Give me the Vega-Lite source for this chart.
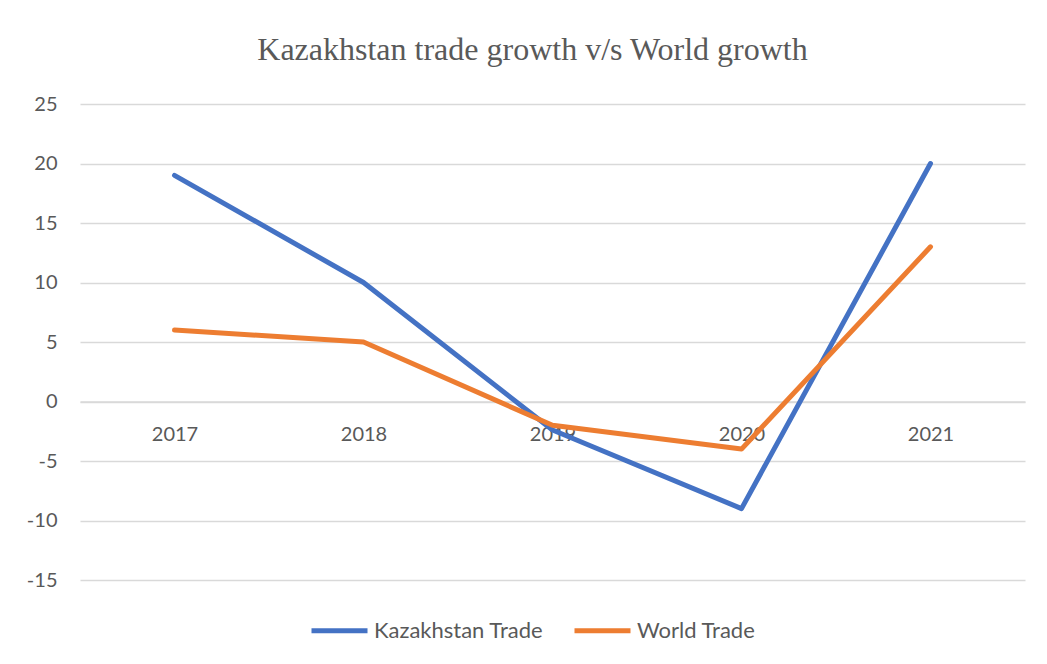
{
  "$schema": "https://vega.github.io/schema/vega-lite/v6.json",
  "width": 945,
  "height": 476,
  "autosize": {"type": "none"},
  "padding": {"left": 80, "top": 104, "right": 22, "bottom": 84},
  "background": "white",
  "title": {
    "text": "Kazakhstan trade growth v/s World growth",
    "font": "Liberation Serif",
    "fontSize": 32,
    "fontWeight": "normal",
    "color": "#595959",
    "anchor": "middle",
    "frame": "group",
    "offset": 27,
    "dx": -20
  },
  "config": {
    "view": {"stroke": null},
    "font": "Lato"
  },
  "data": {
    "values": [
      {"year": "2017", "series": "Kazakhstan Trade", "value": 19},
      {"year": "2018", "series": "Kazakhstan Trade", "value": 10},
      {"year": "2019", "series": "Kazakhstan Trade", "value": -2.4},
      {"year": "2020", "series": "Kazakhstan Trade", "value": -9},
      {"year": "2021", "series": "Kazakhstan Trade", "value": 20},
      {"year": "2017", "series": "World Trade", "value": 6},
      {"year": "2018", "series": "World Trade", "value": 5},
      {"year": "2019", "series": "World Trade", "value": -2},
      {"year": "2020", "series": "World Trade", "value": -4},
      {"year": "2021", "series": "World Trade", "value": 13}
    ]
  },
  "mark": {"type": "line", "strokeWidth": 5, "strokeCap": "round", "strokeJoin": "round"},
  "encoding": {
    "x": {
      "field": "year",
      "type": "ordinal",
      "scale": {"type": "point", "padding": 0.5},
      "axis": {
        "title": null,
        "labelAngle": 0,
        "offset": -178.5,
        "domainColor": "#d9d9d9",
        "domainWidth": 1.3,
        "ticks": false,
        "grid": false,
        "labelFont": "Lato",
        "labelFontSize": 20,
        "labelColor": "#595959",
        "labelPadding": 33,
        "labelBaseline": "middle"
      }
    },
    "y": {
      "field": "value",
      "type": "quantitative",
      "scale": {"domain": [-15, 25], "nice": false, "zero": false},
      "axis": {
        "title": null,
        "values": [-15, -10, -5, 0, 5, 10, 15, 20, 25],
        "labelExpr": "'' + datum.value",
        "domain": false,
        "ticks": false,
        "grid": true,
        "gridColor": "#d9d9d9",
        "gridWidth": 1.3,
        "labelFont": "Lato",
        "labelFontSize": 20,
        "labelColor": "#595959",
        "labelPadding": 23
      }
    },
    "color": {
      "field": "series",
      "type": "nominal",
      "scale": {"domain": ["Kazakhstan Trade", "World Trade"], "range": ["#4472C4", "#ED7D31"]},
      "legend": {
        "title": null,
        "orient": "none",
        "direction": "horizontal",
        "legendX": 229,
        "legendY": 496,
        "symbolType": "stroke",
        "symbolSize": 3136,
        "symbolStrokeWidth": 5,
        "labelFont": "Lato",
        "labelFontSize": 22,
        "labelColor": "#595959",
        "labelOffset": 4,
        "labelLimit": 400,
        "columnPadding": 20
      }
    }
  }
}
